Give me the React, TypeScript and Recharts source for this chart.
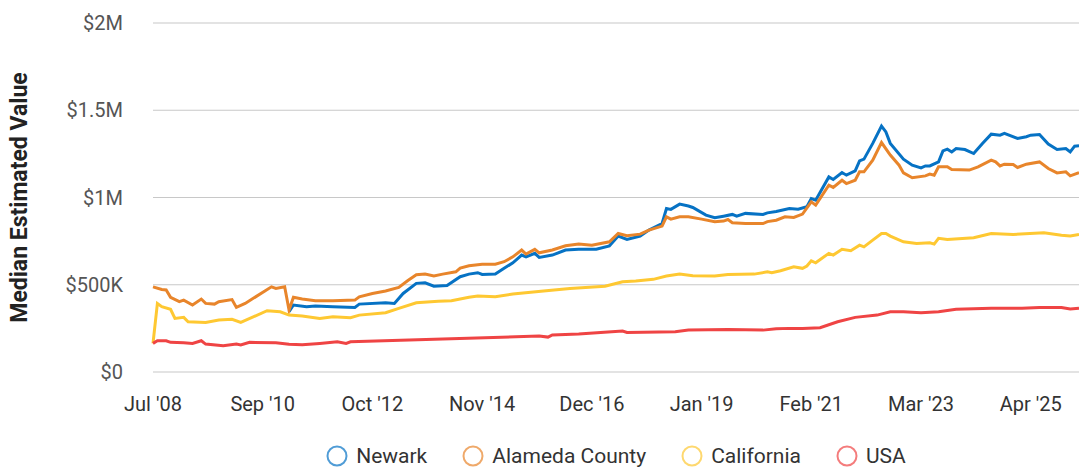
import React from "react";
import { LineChart, Line, XAxis, YAxis, CartesianGrid, Legend, Label } from "recharts";

// x is a period index (0 = Jul '08), values are in $K
const xTickIdx = [0, 25, 50, 75, 100, 125, 150, 175, 200];
const xTickLabels = ["Jul '08", "Sep '10", "Oct '12", "Nov '14", "Dec '16", "Jan '19", "Feb '21", "Mar '23", "Apr '25"];
const yTicks = [0, 500, 1000, 1500, 2000];
const lastIdx = 211;
const seriesNames = ["Newark", "Alameda County", "California", "USA"];

const newark: [number, number][] = [
  [31, 345], [32, 384], [35, 374], [37, 378], [41, 374], [46, 370], [47, 389], [53, 397], [55, 393], [57, 450],
  [60, 508], [62, 511], [64, 492], [67, 496], [70, 546], [72, 561], [74, 569], [75, 559], [78, 561], [80, 594],
  [82, 626], [84, 670], [85, 660], [87, 680], [88, 657], [91, 670], [94, 699], [97, 704], [101, 704], [104, 723],
  [106, 779], [108, 760], [111, 779], [113, 813], [116, 851], [117, 937], [118, 932], [120, 962], [122, 951], [123, 943],
  [126, 899], [128, 884], [130, 893], [132, 903], [133, 893], [135, 909], [139, 903], [140, 912], [142, 920], [145, 937],
  [147, 933], [149, 947], [150, 994], [151, 985], [154, 1118], [155, 1103], [157, 1143], [158, 1128], [160, 1153], [161, 1210],
  [162, 1220], [164, 1310], [166, 1409], [167, 1376], [168, 1310], [171, 1220], [173, 1185], [175, 1170], [176, 1181], [177, 1181],
  [179, 1204], [180, 1267], [181, 1277], [182, 1261], [183, 1281], [185, 1275], [187, 1252], [189, 1310], [191, 1363], [193, 1357],
  [194, 1367], [197, 1338], [199, 1348], [200, 1357], [202, 1361], [204, 1306], [206, 1275], [208, 1281], [209, 1261], [210, 1294],
  [211, 1296],
];

const alameda: [number, number][] = [
  [0, 488], [2, 473], [3, 470], [4, 428], [6, 403], [7, 412], [9, 384], [11, 418], [12, 393], [14, 389],
  [15, 403], [18, 415], [19, 370], [21, 393], [27, 488], [28, 479], [30, 488], [31, 355], [32, 428], [34, 418],
  [37, 408], [41, 408], [46, 412], [47, 431], [50, 450], [53, 464], [56, 485], [58, 523], [60, 557], [62, 561],
  [64, 551], [66, 561], [69, 574], [70, 595], [72, 609], [75, 617], [78, 618], [80, 632], [82, 660], [84, 699],
  [85, 676], [87, 703], [88, 683], [91, 699], [94, 723], [97, 733], [100, 727], [104, 746], [106, 794], [108, 781],
  [111, 790], [113, 813], [116, 836], [117, 889], [118, 876], [120, 889], [122, 889], [125, 876], [128, 861], [130, 865],
  [131, 874], [132, 855], [135, 851], [139, 851], [140, 862], [142, 870], [144, 889], [146, 886], [148, 905], [150, 975],
  [151, 956], [154, 1071], [155, 1058], [157, 1099], [158, 1080], [160, 1099], [161, 1147], [162, 1147], [164, 1214], [166, 1315],
  [168, 1243], [170, 1185], [171, 1141], [173, 1113], [176, 1124], [177, 1134], [178, 1128], [179, 1176], [181, 1176], [182, 1160],
  [186, 1157], [188, 1176], [191, 1214], [192, 1204], [193, 1181], [194, 1191], [196, 1189], [197, 1172], [199, 1191], [202, 1204],
  [204, 1166], [206, 1141], [208, 1147], [209, 1124], [211, 1143],
];

const california: [number, number][] = [
  [0, 164], [1, 393], [2, 374], [4, 359], [5, 307], [7, 313], [8, 288], [12, 284], [15, 298], [18, 302],
  [20, 284], [26, 351], [29, 345], [31, 326], [34, 321], [38, 307], [41, 317], [45, 311], [47, 326], [53, 340],
  [56, 365], [60, 397], [65, 405], [68, 408], [72, 428], [74, 435], [78, 431], [82, 447], [89, 464], [95, 479],
  [103, 492], [107, 517], [110, 521], [114, 531], [117, 550], [120, 561], [123, 551], [128, 550], [131, 559], [137, 561],
  [140, 574], [141, 569], [143, 580], [146, 603], [148, 594], [149, 607], [150, 637], [151, 626], [154, 680], [155, 670],
  [157, 703], [159, 695], [161, 727], [162, 717], [164, 756], [166, 794], [167, 794], [168, 779], [171, 746], [174, 737],
  [177, 740], [178, 733], [179, 766], [181, 760], [187, 769], [191, 794], [196, 788], [203, 798], [207, 784], [209, 779],
  [211, 788],
];

const usa: [number, number][] = [
  [0, 164], [1, 179], [3, 179], [4, 170], [7, 168], [9, 164], [11, 179], [12, 160], [16, 151], [19, 160],
  [20, 155], [22, 170], [28, 168], [31, 159], [34, 156], [38, 164], [42, 173], [44, 164], [45, 173], [88, 206],
  [90, 200], [91, 212], [97, 218], [102, 227], [107, 235], [108, 227], [119, 231], [122, 240], [131, 244], [139, 240],
  [142, 248], [145, 250], [148, 250], [152, 254], [156, 288], [160, 313], [165, 326], [168, 345], [171, 345], [175, 340],
  [179, 345], [183, 359], [191, 365], [198, 365], [202, 370], [207, 370], [209, 361], [211, 365],
];

const toRows = (pts: [number, number][]) => pts.map(([i, v]) => ({ i, v }));

const formatY = (v: number) => {
  if (v === 0) return "$0";
  if (v < 1000) return `$${v}K`;
  return `$${v / 1000}M`;
};

const formatX = (v: number) => xTickLabels[xTickIdx.indexOf(v)] ?? "";

const renderLegend = (props: any) => {
  const items = [...(props.payload || [])].sort(
    (a: any, b: any) => seriesNames.indexOf(a.value) - seriesNames.indexOf(b.value)
  );
  return (
    <div style={{ display: "flex", justifyContent: "center", alignItems: "center", height: 24, gap: 35 }}>
      {items.map((entry: any) => (
        <div key={entry.value} style={{ display: "flex", alignItems: "center" }}>
          <svg width={22} height={22}>
            <circle cx={11} cy={11} r={9.5} fill="none" stroke={entry.color} strokeWidth={2} strokeOpacity={0.7} />
          </svg>
          <span style={{ marginLeft: 8, fontSize: 21, color: "#333" }}>{entry.value}</span>
        </div>
      ))}
    </div>
  );
};

const App: React.FC = () => {
  return (
    <div
      style={{
        position: "absolute",
        left: 0,
        top: 0,
        width: 1079,
        height: 467,
        background: "#fff",
        fontFamily: "Roboto, sans-serif",
      }}
    >
      <LineChart width={1079} height={467} margin={{ top: 23, right: 0, left: 0, bottom: 31 }}>
        <CartesianGrid vertical={false} stroke="#c8c8c8" strokeWidth={1.2} />
        <XAxis
          type="number"
          dataKey="i"
          domain={[0, lastIdx]}
          ticks={xTickIdx}
          tickFormatter={formatX}
          interval={0}
          axisLine={false}
          tickLine={false}
          tickSize={0}
          tickMargin={25}
          height={40}
          tick={{ fontSize: 20, fill: "#333" }}
        />
        <YAxis
          type="number"
          domain={[0, 2000]}
          ticks={yTicks}
          tickFormatter={formatY}
          interval={0}
          axisLine={false}
          tickLine={false}
          tickSize={0}
          tickMargin={30}
          width={153}
          tick={{ fontSize: 20, fill: "#555" }}
        >
          <Label
            value="Median Estimated Value"
            angle={-90}
            position="insideLeft"
            offset={19}
            style={{ textAnchor: "middle", fontSize: 23, fontWeight: 700, fill: "#222" }}
          />
        </YAxis>
        <Legend verticalAlign="bottom" wrapperStyle={{ top: 444, left: 153, width: 926 }} content={renderLegend} />
        <Line data={toRows(newark)} dataKey="v" name="Newark" stroke="#0672c4" strokeWidth={3} dot={false} isAnimationActive={false} />
        <Line data={toRows(alameda)} dataKey="v" name="Alameda County" stroke="#e8852b" strokeWidth={3} dot={false} isAnimationActive={false} />
        <Line data={toRows(california)} dataKey="v" name="California" stroke="#fec832" strokeWidth={3} dot={false} isAnimationActive={false} />
        <Line data={toRows(usa)} dataKey="v" name="USA" stroke="#ef4444" strokeWidth={3} dot={false} isAnimationActive={false} />
      </LineChart>
    </div>
  );
};

export default App;
